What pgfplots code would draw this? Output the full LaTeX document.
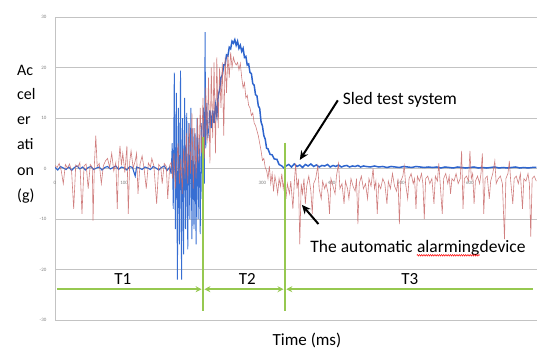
\documentclass[border=0pt]{standalone}
\usepackage{pgfplots}
\pgfplotsset{compat=1.18}
\usepackage{fontspec}
\setmainfont{Carlito}
\usetikzlibrary{arrows.meta,decorations.pathmorphing}
\definecolor{sledblue}{RGB}{45,100,205}
\definecolor{sledlight}{RGB}{55,110,210}
\definecolor{devred}{RGB}{200,105,105}
\definecolor{tgreen}{RGB}{150,200,80}
\definecolor{gridgray}{RGB}{195,195,195}
\begin{document}
\begin{tikzpicture}
\path[use as bounding box] (0,0) rectangle (538pt,349pt);
\begin{axis}[
  at={(55pt,29pt)}, anchor=south west,
  scale only axis, width=482pt, height=303pt,
  xmin=0, xmax=697, ymin=-30, ymax=30,
  axis x line=middle, axis y line=left,
  axis line style={draw=gridgray,-},
  hide obscured x ticks=false, hide obscured y ticks=false,
  xtick={0,100,...,600}, ytick={-30,-20,...,30},
  ymajorgrids, grid style={draw=gridgray,line width=0.7pt},
  tick style={draw=none},
  /pgf/number format/assume math mode=true,
  ticklabel style={font=\fontsize{5}{6}\selectfont, text=gray},
  xticklabel style={yshift=-7pt},
  yticklabel style={xshift=-3pt},
  clip mode=individual,
]
% Sled test system (blue): before impact
\addplot[sledblue, line width=1.1pt] coordinates {
(0,0.2)(4,-0.3)(8,0.4)(12,0.1)(16,-0.2)(20,0.3)(24,-0.4)(28,0.2)(32,0.5)(36,-0.1)(40,0.3)(44,-0.3)(48,0.2)(52,0.4)(56,-0.2)(60,0.1)(64,0.3)(68,-0.3)(72,0.2)(76,0.4)(80,-0.1)(84,0.2)(88,0.5)(92,-0.2)(96,0.3)(100,0.1)(104,-0.3)(108,0.4)(112,0.2)(116,-1.5)(118,0.3)(122,0.1)(126,-0.2)(130,0.3)(134,0.1)(138,-0.2)(142,0.4)(146,0.1)(150,-0.3)(154,0.2)(158,0.5)(162,-0.4)(166,0.3)(168,-1)
};
% blue: impact oscillation
\addplot[sledlight, line width=0.9pt] coordinates {
(168,-1)(169.5,5)(171,-8)(172.5,19)(174,-12)(175.5,15)(177,-22)(178.5,12)(180,-15)(181.5,19.4)(183,-22)(184.5,10)(186,-17)(187.5,14)(189,-12)(190.5,11)(192,-16)(193.5,9)(195,-10)(196.5,12)(198,-14)(199.5,8)(201,-12)(202.5,7)(204,-15)(205.5,10)(207,-10)(208.5,6)(210,-13)(211.5,9)(213,-6)(214.5,12)(216,-3)(217,27)(218,4)(219.5,13)(221,6)(223,9)
};
% blue: pulse and tail
\addplot[sledblue, line width=1.5pt] coordinates {
(223,9)(224,11.5)(226,8)(228,11.5)(230,9)(232,12.5)(234,10.5)(236,14.5)(238,15.5)(240,18)(242,18.5)(244,20.5)(246,20.5)(248,22.5)(250,22.3)(252,24)(254,23.7)(256,25.2)(258,24.8)(260,25.5)(262,24.4)(264,25.2)(266,23.8)(268,24.4)(270,23.2)(272,23.8)(274,22)(276,22.2)(278,20.5)(280,20.7)(282,19)(284,18.8)(286,16.8)(288,16.5)(290,14.6)(292,14.4)(294,12.4)(296,11.9)(298,9.2)(300,8.4)(302,6.5)(304,5.8)(306,4)(308,3.9)(311,2.8)(314,2.7)(317,1.9)(321,1.8)(324,0.8)(328,0.5)(331,0.1)(334,0.5)
(338,0.8)(342,0.3)(346,0.9)(350,0.4)(354,0.7)(358,0.2)(362,0.8)(366,0.5)(370,0.9)(374,0.4)(378,0.7)(382,0.3)(386,0.6)(390,0.5)(394,0.8)(398,0.3)(402,0.6)(406,0.4)(410,0.7)(414,0.3)(418,0.5)(422,0.6)(426,0.3)(430,0.5)(434,0.4)(438,0.6)(442,0.3)(446,0.5)(450,0.4)(456,0.3)(462,0.5)(468,0.3)(474,0.4)(480,0.2)(486,0.4)(492,0.3)(498,0.2)(504,0.4)(510,0.3)(516,0.2)(522,0.4)(528,0.3)(534,0.2)(540,0.3)(546,0.2)(552,0.3)(558,0.1)(564,0.3)(570,0.2)(576,0.1)(582,0.3)(588,0.2)(594,0.1)(600,0.2)(606,0.3)(612,0.1)(618,0.2)(624,0.1)(630,0.2)(636,0.3)(642,0.1)(648,0.2)(654,0.1)(660,0.2)(666,0.3)(672,0.1)(678,0.2)(684,0.1)(690,0.2)(696,0.2)
};
% Automatic alarming device (red)
\addplot[devred, line width=0.6pt, opacity=0.85] coordinates {
(0,0.6)(3,0.2)(6,1.0)(9,-0.4)(12,-3.0)(15,0.8)(18,0.1)(21,0.9)(24,-0.5)(27,-8.0)(30,0.7)(33,0.3)(36,1.2)(39,-9.0)(42,0.5)(45,0.9)(48,-4.0)(51,0.8)(54,0.2)(55,-10.3)(57,0.9)(59,6.5)(61,0.4)(64,1.0)(67,-3.0)(70,0.6)(73,1.5)(76,2.0)(79,0.2)(82,3.0)(85,-0.5)(88,1.2)(90,-8.0)(92,1.0)(94,4.5)(96,0.6)(98,3.0)(101,-0.8)(104,4.5)(106,-9.0)(108,1.3)(110,3.5)(113,0.1)(116,1.5)(118,3.0)(120,-5.0)(123,0.9)(126,2.5)(129,-0.2)(132,-4.0)(135,1.1)(138,0.3)(140,2.0)(143,0.5)(147,-7.0)(150,0.8)(153,0.2)(155,-3.0)(158,1.0)(161,0.4)(163,-6.0)(166,0.7)(168,1.2)
(170,-2)(172,3)(174,-4)(176,1)(178,5)(180,-3)(182,2)(184,-5)(186,4)(188,-2)(190,7)(192,-3)(194,9)(196,-1)(198,11)(200,-4)(202,8)(204,-2)(206,10)(208,1)(210,12)(212,3)(214,14)(216,2)(218,16)(220,5)(222,18)(224,1)(226,20)(228,6)(230,21)(232,3)(234,22)(236,8)(238,20)(240,12)(242,21)(244,6.5)(246,22)(248,15)(250,22.5)(252,18)(254,23)(256,20)(258,22)(260,21)
(262,20.5)(264,21)(266,19.5)(268,20.8)(270,18)(272,16)(274,17)(276,14)(278,14.5)(280,12.5)(282,12)(284,10.5)(286,11)(288,9)(290,8.5)(292,7.5)(294,6.5)(296,5)(298,3.5)(300,1.6)(302,2)(304,0.2)(306,-0.4)(308,-2)(310,0.5)(312,-3)(314,-1)(316,-4.5)(318,-1.5)(320,-3)(322,-5)(324,-2)(326,-3.5)(328,-1)(330,-4)(332,-2)(334,-6)
(336,-3)(339,-5)(341,-2.5)(344,-8)(346,-3)(348,1)(350,-4)(352,-2)(354,-15)(356,-3)(358,-5)(360,-2)(362,-7)(364,-3.5)(367,-1.5)(370,-4.5)(372,-9)(374,-3)(377,-2)(380,0.5)(382,-4)(385,-6)(387,-2.5)(390,-4)(392,-3)(395,-5)(397,-9)(399,-2)(402,-3.5)(405,-5)(407,-1.5)(410,1)(412,-4)(415,-3)(418,-7)(420,-2.5)(423,-4)(425,-6)(428,-2)(431,-3.5)(434,-4.5)(436,-2)(438,-11)(440,-3)(443,-1.5)(446,-4)(449,-3)(452,-6)(454,-2)(457,-3.5)(460,0)(462,-4)(464,-2.5)(466,-9)(468,-3)(471,-4)(474,-2)(477,-3)(480,-7)(482,-2.5)(485,-4)(488,-1)(491,-3.5)(494,-4.5)(496,-2)(498,-11)(500,-2.5)(503,-1.5)(505,0.5)(507,-3)(510,-6)(512,-2)(515,-1)(518,-3)(520,-2)(522,-8)(524,-1.5)(527,-2.5)(530,-1)(532,-3)(534,-10)(536,-2)(539,-1.5)(542,-3)(545,-2)(548,-7)(550,-1.5)(553,-2.5)(555,1)(557,-3)(560,-9)(562,-2)(565,-1)(568,-3)(570,-1.5)(572,-5)(574,-2)(577,-2.5)(580,-1)(583,-3)(586,-2)(588,3.5)(590,-8)(592,-2)(595,-1.5)(598,-2.5)(600,3.5)(602,-2)(604,-1)(606,-7)(608,-2.5)(611,-1.5)(614,-3)(616,-1)(618,3)(620,-9)(622,-2)(625,-1.5)(628,-6)(630,-2.5)(633,-1)(636,1.5)(638,-3)(641,-2)(644,-1.5)(647,-3)(650,-14)(652,-2)(655,-1)(657,1.5)(659,-2.5)(662,-7)(664,-2)(667,-1.5)(670,-3)(673,-1)(676,-8)(678,-2)(681,-2.5)(684,-1)(686,-3)(688,-13.5)(690,-2)(693,-1.5)(696,-2.5)
};
% phase boundaries (green)
\addplot[tgreen, line width=2.6pt, forget plot] coordinates {(214,6.2)(214,-28.3)};
\addplot[tgreen, line width=2.6pt, forget plot] coordinates {(332.5,5.1)(332.5,-28.3)};
\addplot[tgreen, line width=2pt, -{Stealth[length=6pt,width=6pt]}, forget plot] coordinates {(3,-23.9)(212,-23.9)};
\addplot[tgreen, line width=2pt, {Stealth[length=6pt,width=6pt]}-{Stealth[length=6pt,width=6pt]}, forget plot] coordinates {(216,-23.9)(330.5,-23.9)};
\addplot[tgreen, line width=2pt, {Stealth[length=6pt,width=6pt]}-, forget plot] coordinates {(334.5,-23.9)(691,-23.9)};
\node[font=\fontsize{17}{20}\selectfont] at (axis cs:98,-21.9) {T1};
\node[font=\fontsize{17}{20}\selectfont] at (axis cs:278,-21.9) {T2};
\node[font=\fontsize{17}{20}\selectfont] at (axis cs:513,-21.9) {T3};
% annotations
\draw[black, line width=2pt, -{Stealth[length=9pt,width=8pt]}] (axis cs:409,13.5) -- (axis cs:354,1.7);
\node[anchor=west, inner sep=0pt, font=\fontsize{17.5}{20}\selectfont] at (axis cs:416,13.5) {Sled test system};
\draw[black, line width=2pt, -{Stealth[length=9pt,width=8pt]}] (axis cs:381,-11) -- (axis cs:357,-7.2);
\node[anchor=west, inner sep=0pt, font=\fontsize{17.5}{20}\selectfont] (ta) at (axis cs:369,-15.5) {The automatic};
\node[anchor=base west, inner sep=0pt, font=\fontsize{17.5}{20}\selectfont] (tb) at ([xshift=4pt]ta.base east) {alarming};
\node[anchor=base west, inner sep=0pt, font=\fontsize{17.5}{20}\selectfont] (tc) at (tb.base east) {device};
\draw[red, line width=0.5pt, decorate, decoration={zigzag, amplitude=0.8pt, segment length=2.2pt}] ([yshift=-2.5pt]tb.base west) -- ([yshift=-2.5pt]tb.base east);
\end{axis}
% axis labels
\begin{scope}[font=\fontsize{16}{20}\selectfont]
\node[anchor=base west, inner sep=0pt] at (17pt,274pt) {Ac};
\node[anchor=base west, inner sep=0pt] at (17pt,249.5pt) {cel};
\node[anchor=base west, inner sep=0pt] at (17pt,225pt) {er};
\node[anchor=base west, inner sep=0pt] at (17pt,200pt) {ati};
\node[anchor=base west, inner sep=0pt] at (17pt,174pt) {on};
\node[anchor=base west, inner sep=0pt] at (17pt,149pt) {(g)};
\end{scope}
\node[font=\fontsize{17}{20}\selectfont] at (307pt,9pt) {Time (ms)};
\end{tikzpicture}
\end{document}
